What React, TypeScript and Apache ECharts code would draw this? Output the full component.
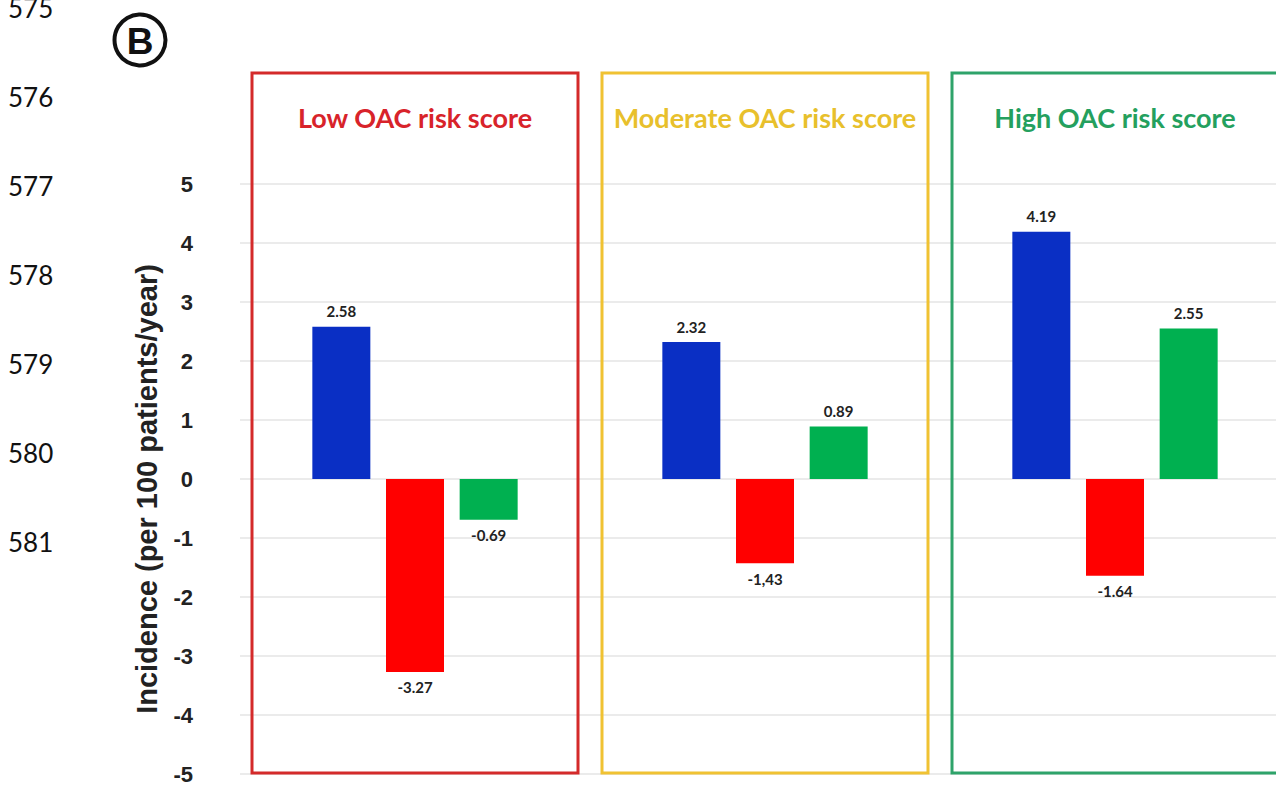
import React, { useEffect, useRef } from "react";
import * as echarts from "echarts";

// ---- data ----
const categories = ["Low", "Moderate", "High"];
const boxTitles = ["Low OAC risk score", "Moderate OAC risk score", "High OAC risk score"];
const blueValues = [2.58, 2.32, 4.19];
const redValues = [-3.27, -1.43, -1.64];
const greenValues = [-0.69, 0.89, 2.55];
const blueLabels = ["2.58", "2.32", "4.19"];
const redLabels = ["-3.27", "-1,43", "-1.64"];
const greenLabels = ["-0.69", "0.89", "2.55"];
const lineNumbers = ["575", "576", "577", "578", "579", "580", "581"];
const yAxisName = "Incidence (per 100 patients/year)";
const yMin = -5;
const yMax = 5;
const yInterval = 1;

// ---- styles ----
const barColors = ["#0a2fc4", "#ff0000", "#00b050"];
const boxColors = ["#d42a2a", "#f0c232", "#2ea36a"];
const titleColors = ["#d8232a", "#e8c02c", "#24a05e"];

function makeSeries(values: number[], labels: string[], color: string, name: string) {
  return {
    type: "bar",
    name,
    barWidth: 58,
    barGap: "27%",
    itemStyle: { color },
    data: values.map((v, i) => ({
      value: v,
      label: {
        show: true,
        position: v >= 0 ? "top" : "bottom",
        distance: 8,
        formatter: () => labels[i],
        fontFamily: "Lato",
        fontWeight: "bold",
        fontSize: 15,
        color: "#222",
      },
    })),
  };
}

export default function App() {
  const ref = useRef<HTMLDivElement>(null);
  useEffect(() => {
    if (!ref.current) return;
    const chart = echarts.init(ref.current, null, { renderer: "svg" });
    chart.setOption({
      animation: false,
      backgroundColor: "#ffffff",
      grid: { left: 240, right: 0, top: 184, bottom: 9, containLabel: false },
      xAxis: {
        type: "category",
        data: categories,
        axisLine: { show: false },
        axisTick: { show: false },
        axisLabel: { show: false },
        splitLine: { show: false },
      },
      yAxis: {
        type: "value",
        min: yMin,
        max: yMax,
        interval: yInterval,
        name: yAxisName,
        nameLocation: "middle",
        nameGap: 79,
        nameRotate: 90,
        nameTextStyle: {
          fontFamily: "Liberation Sans",
          fontWeight: "bold",
          fontSize: 29,
          color: "#222",
          padding: [0, 20, 0, 0],
        },
        axisLine: { show: false },
        axisTick: { show: false },
        axisLabel: {
          margin: 47,
          fontFamily: "Liberation Sans",
          fontWeight: "bold",
          fontSize: 22,
          color: "#222",
        },
        splitLine: { show: true, lineStyle: { color: "#e4e4e4", width: 1.5 } },
      },
      series: [
        makeSeries(blueValues, blueLabels, barColors[0], "Blue"),
        makeSeries(redValues, redLabels, barColors[1], "Red"),
        makeSeries(greenValues, greenLabels, barColors[2], "Green"),
      ],
    });

    // decorations derived from the axes
    const c0 = chart.convertToPixel({ xAxisIndex: 0 }, 0) as number;
    const c1 = chart.convertToPixel({ xAxisIndex: 0 }, 1) as number;
    const band = c1 - c0;
    const yTop = chart.convertToPixel({ yAxisIndex: 0 }, yMax) as number;
    const yBottom = chart.convertToPixel({ yAxisIndex: 0 }, yMin) as number;
    const boxW = band - 24;
    const boxTop = yTop - 111;
    const boxBottom = yBottom - 1;

    const graphics: any[] = [];
    categories.forEach((_, i) => {
      const cx = chart.convertToPixel({ xAxisIndex: 0 }, i) as number;
      graphics.push({
        type: "rect",
        z: 100,
        silent: true,
        shape: { x: cx - boxW / 2, y: boxTop, width: boxW, height: boxBottom - boxTop },
        style: { fill: "none", stroke: boxColors[i], lineWidth: 3 },
      });
      graphics.push({
        type: "text",
        z: 101,
        x: cx,
        y: boxTop + 44,
        style: {
          text: boxTitles[i],
          fill: titleColors[i],
          font: "bold 27px Lato",
          align: "center",
          verticalAlign: "middle",
        },
      });
    });
    lineNumbers.forEach((t, i) => {
      graphics.push({
        type: "text",
        x: 8,
        y: 8 + i * 89,
        style: {
          text: t,
          fill: "#111",
          font: "26px Lato",
          align: "left",
          verticalAlign: "middle",
        },
      });
    });
    graphics.push({
      type: "circle",
      shape: { cx: 140, cy: 40, r: 25.5 },
      style: { fill: "none", stroke: "#111", lineWidth: 4 },
    });
    graphics.push({
      type: "text",
      x: 140,
      y: 41,
      style: {
        text: "B",
        fill: "#111",
        font: "bold 37px Liberation Sans",
        align: "center",
        verticalAlign: "middle",
      },
    });
    chart.setOption({ graphic: graphics });

    return () => chart.dispose();
  }, []);
  return (
    <div
      style={{ position: "fixed", left: 0, top: 0, width: 1276, height: 785, overflow: "hidden", background: "#fff" }}
    >
      <div ref={ref} style={{ width: 1290, height: 785 }} />
    </div>
  );
}
